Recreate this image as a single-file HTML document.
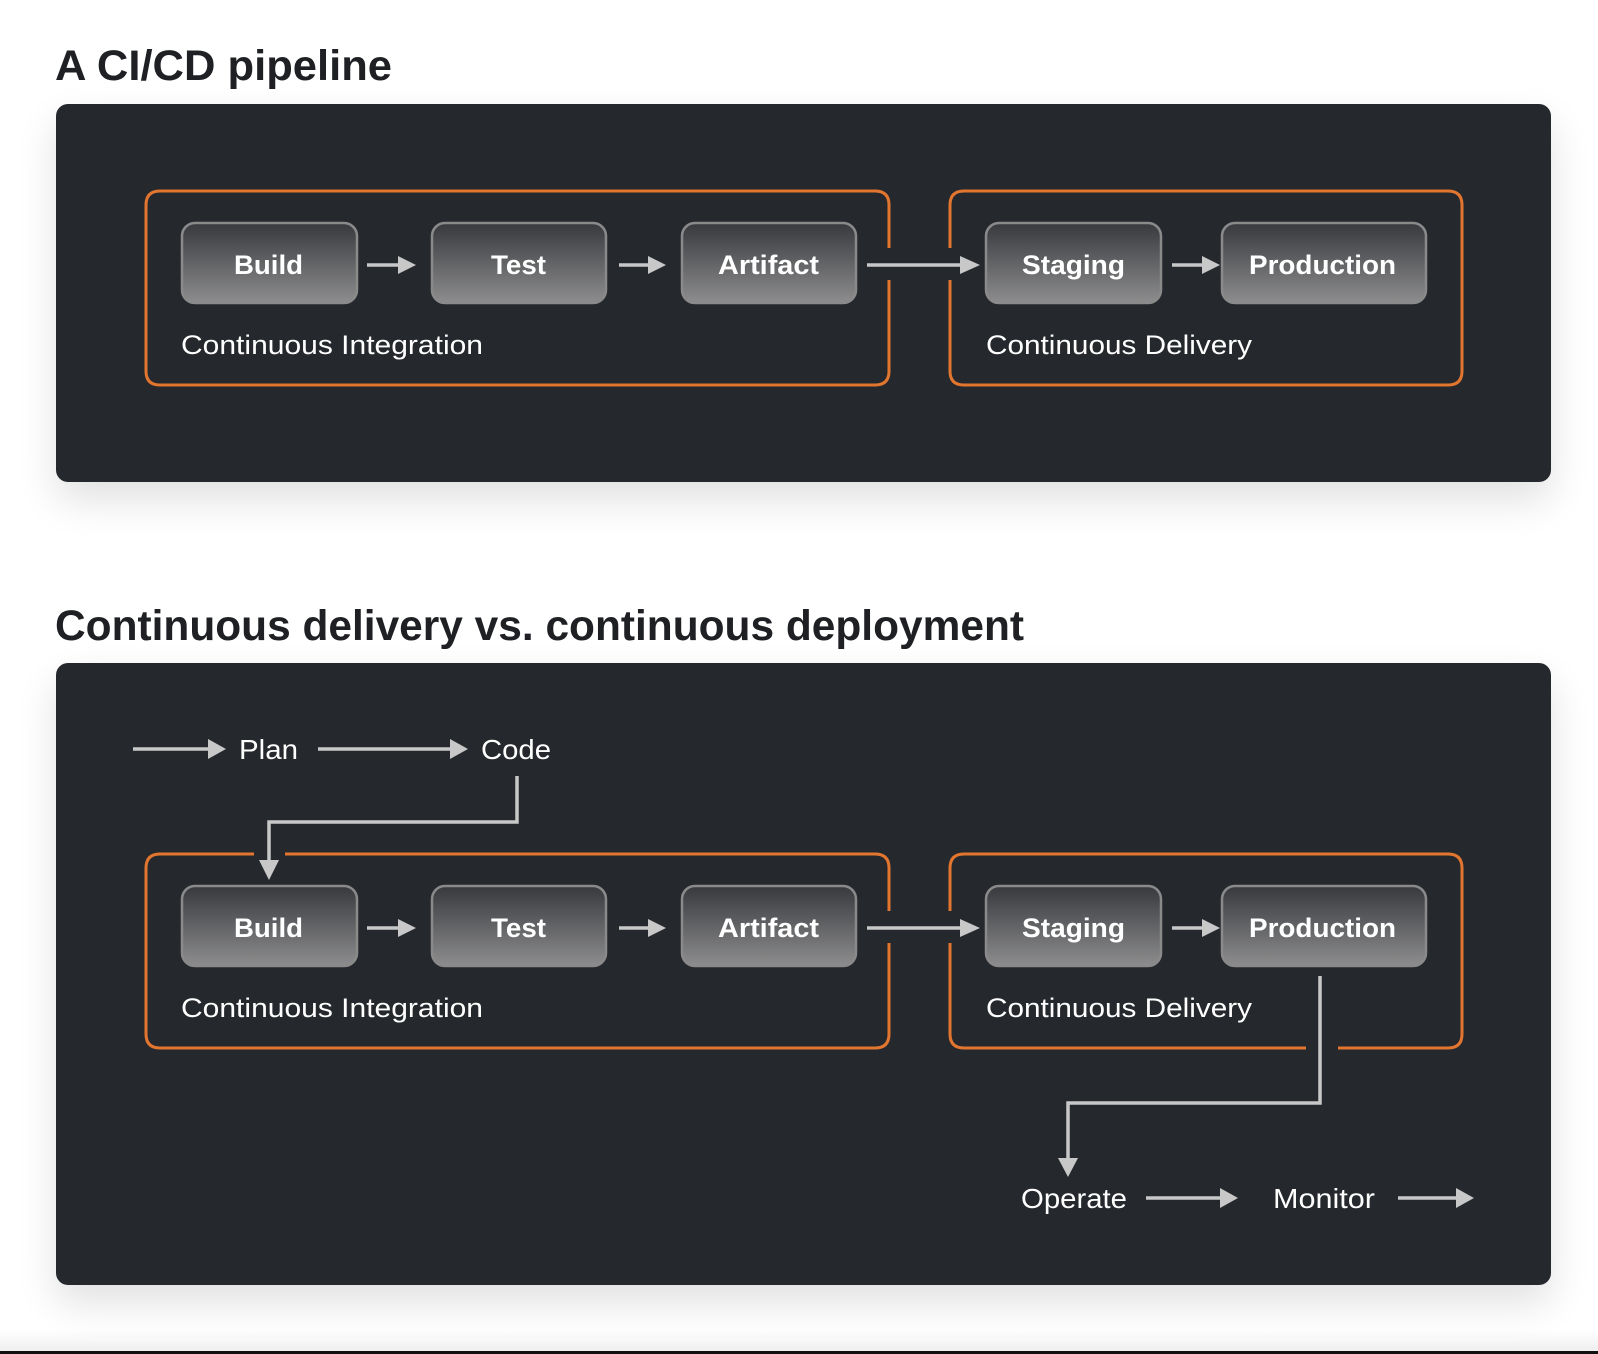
<!DOCTYPE html>
<html><head><meta charset="utf-8"><style>
html,body{margin:0;padding:0;background:#fff;}
body{width:1598px;height:1354px;overflow:hidden;position:relative;font-family:"Liberation Sans",sans-serif;}
.panel{position:absolute;left:56px;width:1495px;background:#25282d;border-radius:12px;box-shadow:0 18px 40px rgba(0,0,0,0.12);}
</style></head><body>
<div style="position:absolute;left:0;top:1330px;width:1598px;height:22px;background:linear-gradient(#fff,#eee);"></div>
<div style="position:absolute;left:0;top:1351px;width:1598px;height:3px;background:#111;"></div>
<div class="panel" style="top:104px;height:378px;"></div>
<div class="panel" style="top:663px;height:622px;"></div>
<svg width="1598" height="1354" style="position:absolute;left:0;top:0" xmlns="http://www.w3.org/2000/svg">
<defs>
<linearGradient id="g" x1="0" y1="0" x2="0" y2="1"><stop offset="0" stop-color="#37393d"/><stop offset="1" stop-color="#8d8d8e"/></linearGradient>
</defs>
<text x="55" y="80" font-size="43" font-weight="bold" fill="#1e2024" textLength="337" lengthAdjust="spacingAndGlyphs">A CI/CD pipeline</text>
<text x="55" y="640" font-size="43" font-weight="bold" fill="#1e2024" textLength="969" lengthAdjust="spacingAndGlyphs">Continuous delivery vs. continuous deployment</text>

<g id="row">
<path d="M889,248 V205 Q889,191 875,191 H160 Q146,191 146,205 V371 Q146,385 160,385 H875 Q889,385 889,371 V280" fill="none" stroke="#e2762f" stroke-width="3"/>
<path d="M950,248 V205 Q950,191 964,191 H1448 Q1462,191 1462,205 V371 Q1462,385 1448,385 H964 Q950,385 950,371 V280" fill="none" stroke="#e2762f" stroke-width="3"/>
<g stroke="#8a8a8a" stroke-width="2.5" fill="url(#g)">
<rect x="182" y="223" width="175" height="80" rx="13"/>
<rect x="432" y="223" width="174" height="80" rx="13"/>
<rect x="682" y="223" width="174" height="80" rx="13"/>
<rect x="986" y="223" width="175" height="80" rx="13"/>
<rect x="1222" y="223" width="204" height="80" rx="13"/>
</g>
<g font-size="27" font-weight="bold" fill="#fff" lengthAdjust="spacingAndGlyphs">
<text x="234" y="274" textLength="69" lengthAdjust="spacingAndGlyphs">Build</text>
<text x="491" y="274" textLength="55" lengthAdjust="spacingAndGlyphs">Test</text>
<text x="718" y="274" textLength="101" lengthAdjust="spacingAndGlyphs">Artifact</text>
<text x="1022" y="274" textLength="103" lengthAdjust="spacingAndGlyphs">Staging</text>
<text x="1249" y="274" textLength="147" lengthAdjust="spacingAndGlyphs">Production</text>
</g>
<g font-size="27" fill="#fff"><text x="181" y="354" textLength="302" lengthAdjust="spacingAndGlyphs">Continuous Integration</text><text x="986" y="354" textLength="266" lengthAdjust="spacingAndGlyphs">Continuous Delivery</text></g>
<g stroke="#c8c8c8" stroke-width="3.5"><line x1="367" y1="265" x2="400" y2="265"/><line x1="619" y1="265" x2="650" y2="265"/><line x1="867" y1="265" x2="962" y2="265"/><line x1="1172" y1="265" x2="1204" y2="265"/></g>
<g fill="#c8c8c8"><path d="M398,256 L416,265 L398,274Z"/><path d="M648,256 L666,265 L648,274Z"/><path d="M960,256 L980,265 L960,274Z"/><path d="M1202,256 L1220,265 L1202,274Z"/></g>
</g>
<use href="#row" y="663"/>
<rect x="254" y="850" width="31" height="10" fill="#25282d"/>
<rect x="1306" y="1043" width="32" height="10" fill="#25282d"/>
<g fill="none" stroke="#c8c8c8" stroke-width="3.5">
<line x1="133" y1="749" x2="210" y2="749"/><line x1="318" y1="749" x2="452" y2="749"/>
<path d="M517,776 V822 H269 V862"/>
<path d="M1320,976 V1103 H1068 V1160"/>
<line x1="1146" y1="1198" x2="1222" y2="1198"/><line x1="1398" y1="1198" x2="1458" y2="1198"/>
</g>
<g fill="#c8c8c8">
<path d="M208,739 L226,749 L208,759Z"/><path d="M450,739 L468,749 L450,759Z"/>
<path d="M259,860 L269,880 L279,860Z"/><path d="M1058,1158 L1068,1177 L1078,1158Z"/>
<path d="M1220,1188 L1238,1198 L1220,1208Z"/><path d="M1456,1188 L1474,1198 L1456,1208Z"/>
</g>
<g font-size="28" fill="#fff">
<text x="239" y="759" textLength="59" lengthAdjust="spacingAndGlyphs">Plan</text>
<text x="481" y="759" textLength="70" lengthAdjust="spacingAndGlyphs">Code</text>
<text x="1021" y="1208" textLength="106" lengthAdjust="spacingAndGlyphs">Operate</text>
<text x="1273" y="1208" textLength="102" lengthAdjust="spacingAndGlyphs">Monitor</text>
</g>
</svg>
</body></html>
